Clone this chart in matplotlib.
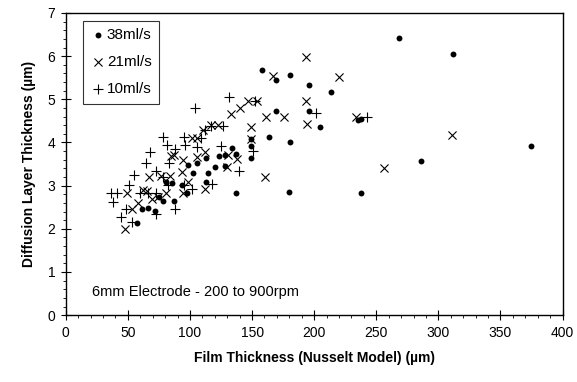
import matplotlib
matplotlib.use("Agg")
import matplotlib.pyplot as plt
from matplotlib.ticker import MultipleLocator

plt.rcParams['font.family'] = ['Liberation Sans', 'DejaVu Sans']

# 38 ml/s
x38 = [157.8, 169.1, 180.6, 195.9, 169.1, 195.9, 163.5, 180.6, 149.5, 149.5,
       149.5, 136.9, 179.9, 57.3, 61.0, 66.4, 71.8, 75.0, 78.5, 80.6,
       85.5, 87.0, 93.5, 97.8, 98.8, 102.1, 105.6, 112.5, 114.7, 113.3,
       119.8, 123.5, 128.6, 128.3, 134.2, 137.2, 268.1, 312.1, 213.6, 205.0,
       235.6, 237.6, 285.7, 374.2, 237.6]
y38 = [5.67, 5.44, 5.57, 5.34, 4.73, 4.72, 4.12, 4.02, 4.08, 3.92,
       3.65, 2.84, 2.86, 2.14, 2.46, 2.48, 2.42, 2.73, 2.64, 3.09,
       3.05, 2.65, 3.02, 2.84, 3.49, 3.30, 3.53, 3.63, 3.30, 3.09,
       3.44, 3.69, 3.70, 3.46, 3.87, 3.74, 6.42, 6.04, 5.16, 4.37,
       4.51, 4.54, 3.58, 3.93, 2.83]

# 21 ml/s
x21 = [167.2, 193.8, 193.5, 194.0, 161.6, 175.5, 146.8, 149.0, 149.5, 160.8,
       140.4, 133.4, 122.4, 110.6, 105.3, 112.3, 105.8, 94.6, 87.3, 76.6,
       93.2, 98.3, 94.3, 80.6, 74.2, 69.3, 65.1, 61.8, 58.1, 53.3,
       49.5, 47.4, 67.2, 130.0, 138.0, 111.7, 154.3, 219.7, 233.5, 311.3,
       255.9, 85.0, 117.0, 101.5, 84.0, 131.0]
y21 = [5.55, 5.98, 4.95, 4.43, 4.60, 4.59, 4.97, 4.35, 4.08, 3.19,
       4.80, 4.66, 4.40, 4.28, 4.11, 3.79, 3.67, 3.60, 3.71, 3.22,
       3.31, 3.09, 2.84, 2.84, 2.73, 2.69, 2.88, 2.90, 2.59, 2.46,
       2.82, 2.00, 3.19, 3.44, 3.61, 2.93, 4.95, 5.51, 4.59, 4.18,
       3.40, 3.68, 4.40, 4.11, 3.22, 3.70]

# 10 ml/s
x10 = [36.1, 40.9, 38.2, 44.4, 48.4, 51.1, 54.9, 64.5, 67.7, 77.9,
       81.4, 72.3, 72.6, 87.6, 94.8, 95.6, 104.0, 101.8, 117.6, 125.1,
       131.8, 139.6, 151.1, 152.2, 117.1, 201.3, 242.8, 53.0, 88.0, 126.5,
       111.8, 109.0, 106.0, 83.4, 66.4, 72.8, 82.0, 78.0, 60.0, 95.1]
y10 = [2.84, 2.84, 2.61, 2.28, 2.45, 3.02, 3.25, 3.52, 3.79, 4.12,
       3.94, 3.33, 2.34, 2.45, 4.12, 3.94, 4.80, 2.92, 3.04, 3.91,
       5.05, 3.35, 3.80, 4.95, 4.38, 4.68, 4.60, 2.15, 3.85, 4.38,
       4.28, 4.11, 3.90, 3.53, 2.84, 2.84, 3.02, 3.19, 2.82, 3.02]

fig = plt.figure(figsize=(5.77, 3.82), dpi=100)
ax = fig.add_axes([0.114, 0.175, 0.861, 0.791])

ax.scatter(x38, y38, marker='o', s=18, color='black', linewidths=0, label='38ml/s')
ax.scatter(x21, y21, marker='x', s=34, color='black', linewidths=0.8, label='21ml/s')
ax.scatter(x10, y10, marker='+', s=42, color='black', linewidths=0.8, label='10ml/s')

ax.set_xlim(0, 400)
ax.set_ylim(0, 7)
ax.xaxis.set_major_locator(MultipleLocator(50))
ax.xaxis.set_minor_locator(MultipleLocator(10))
ax.yaxis.set_major_locator(MultipleLocator(1))
ax.yaxis.set_minor_locator(MultipleLocator(0.2))
ax.tick_params(which='major', direction='inout', length=7, width=0.8, labelsize=10, pad=4)
ax.tick_params(which='minor', direction='out', length=2.5, width=0.6)
for s in ax.spines.values():
    s.set_linewidth(1.0)

ax.set_xlabel('Film Thickness (Nusselt Model) (\u00b5m)', fontsize=10, fontweight='bold', labelpad=8)
ax.set_ylabel('Diffusion Layer Thickness (\u00b5m)', fontsize=10, fontweight='bold', labelpad=8)

ax.text(21, 0.54, '6mm Electrode - 200 to 900rpm', fontsize=10.5, va='center', ha='left')

leg = ax.legend(loc='upper left', bbox_to_anchor=(0.035, 0.975), fontsize=11,
                frameon=True, fancybox=False, edgecolor='black', handletextpad=0.15,
                handlelength=0.9, labelspacing=0.85, borderpad=0.5, markerscale=1.0,
                borderaxespad=0)
leg.get_frame().set_linewidth(0.8)

fig.savefig('out.png', dpi=100)
